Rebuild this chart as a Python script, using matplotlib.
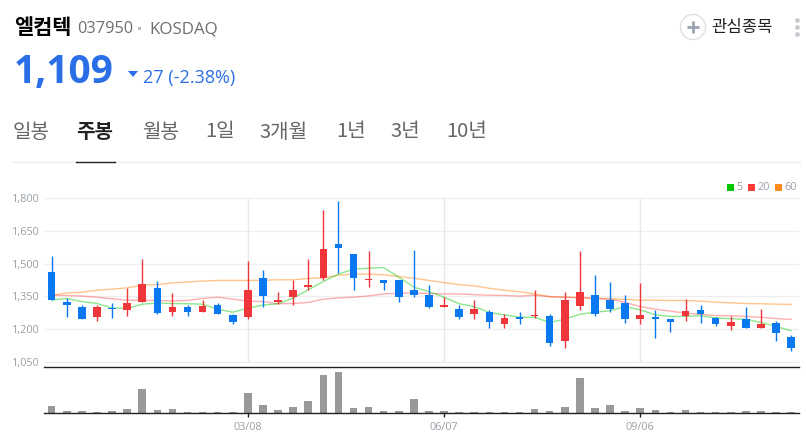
import matplotlib
matplotlib.use("Agg")
import matplotlib.pyplot as plt
from matplotlib.patches import Circle, Polygon, Rectangle

plt.rcParams['font.family'] = ['Noto Sans CJK KR', 'DejaVu Sans']

W, H = 806, 437

# weekly candles
highs = [1536, 1342, 1308, 1311, 1319, 1389, 1522, 1421, 1366, 1311,
         1334, 1319, 1270, 1513, 1471, 1369, 1426, 1522, 1747, 1788,
         1545, 1556, 1426, 1426, 1563, 1403, 1346, 1311, 1334, 1287,
         1268, 1280, 1380, 1268, 1372, 1559, 1449, 1416, 1357, 1410,
         1288, 1247, 1339, 1310, 1256, 1261, 1302, 1293, 1235, 1174]
lows = [1331, 1253, 1248, 1235, 1250, 1262, 1322, 1267, 1258, 1262,
        1280, 1267, 1221, 1245, 1303, 1314, 1311, 1380, 1423, 1456,
        1380, 1395, 1380, 1326, 1345, 1296, 1300, 1244, 1248, 1203,
        1203, 1221, 1250, 1120, 1112, 1288, 1262, 1280, 1227, 1225,
        1157, 1187, 1239, 1227, 1212, 1195, 1204, 1204, 1143, 1099]
body_tops = [1462, 1326, 1303, 1302, 1297, 1320, 1407, 1389, 1303, 1302,
             1306, 1310, 1265, 1378, 1432, 1332, 1380, 1403, 1568, 1591,
             1545, 1430, 1426, 1424, 1380, 1355, 1311, 1293, 1291, 1280,
             1251, 1253, 1265, 1258, 1334, 1369, 1355, 1334, 1319, 1265,
             1256, 1247, 1284, 1288, 1251, 1233, 1245, 1225, 1227, 1164]
body_bots = [1334, 1308, 1248, 1253, 1290, 1285, 1322, 1273, 1280, 1280,
             1280, 1267, 1230, 1253, 1351, 1325, 1349, 1394, 1433, 1574,
             1432, 1426, 1410, 1345, 1357, 1302, 1302, 1256, 1267, 1230,
             1225, 1244, 1259, 1138, 1143, 1305, 1271, 1290, 1248, 1248,
             1244, 1230, 1258, 1267, 1221, 1216, 1204, 1204, 1180, 1114]
# 1 = up (red), 0 = down (blue)
is_up = [0, 0, 0, 1, 0, 1, 1, 0, 1, 0,
         1, 0, 0, 1, 0, 1, 1, 1, 1, 0,
         0, 1, 0, 0, 0, 0, 1, 0, 1, 0,
         1, 0, 1, 0, 1, 1, 0, 0, 0, 1,
         0, 0, 1, 0, 0, 1, 0, 1, 0, 0]

ma5 = [1334, 1340, 1326, 1317, 1297, 1294, 1314, 1319, 1317, 1316,
       1314, 1291, 1277, 1296, 1310, 1316, 1342, 1380, 1418, 1452,
       1475, 1479, 1482, 1438, 1392, 1372, 1346, 1316, 1303, 1276,
       1265, 1254, 1254, 1230, 1245, 1268, 1277, 1284, 1303, 1288,
       1265, 1258, 1258, 1261, 1251, 1247, 1245, 1230, 1212, 1192]
ma20 = [1355, 1354, 1351, 1346, 1339, 1332, 1332, 1331, 1329, 1331,
        1340, 1346, 1337, 1328, 1326, 1316, 1317, 1322, 1337, 1343,
        1346, 1352, 1361, 1364, 1366, 1363, 1361, 1361, 1358, 1355,
        1354, 1351, 1355, 1349, 1346, 1343, 1340, 1337, 1322, 1303,
        1291, 1282, 1273, 1267, 1262, 1261, 1258, 1254, 1248, 1244]
ma60 = [1355, 1365, 1369, 1378, 1383, 1389, 1401, 1404, 1412, 1416,
        1420, 1423, 1423, 1423, 1424, 1426, 1426, 1432, 1435, 1447,
        1452, 1452, 1449, 1441, 1433, 1423, 1413, 1404, 1398, 1387,
        1378, 1371, 1361, 1348, 1346, 1345, 1342, 1339, 1336, 1332,
        1332, 1331, 1331, 1328, 1323, 1320, 1317, 1316, 1314, 1313]

volumes = [22, 7, 6, 3, 6, 13, 73, 10, 13, 4,
           4, 4, 4, 61, 25, 10, 19, 37, 115, 124,
           16, 19, 7, 6, 43, 7, 6, 4, 4, 4,
           4, 4, 13, 6, 19, 105, 15, 25, 7, 15,
           10, 4, 10, 4, 4, 4, 7, 6, 4, 4]

price_ticks = [1050, 1200, 1350, 1500, 1650, 1800]
date_pos = [13, 26, 39]
date_labels = ['03/08', '06/07', '09/06']
tabs = ['일봉', '주봉', '월봉', '1일', '3개월', '1년', '3년', '10년']
tab_x = [13, 76, 142, 205, 259, 336, 390, 446]

BLUE = '#0a78f0'
RED = '#f0353b'
GRAY = '#9aa0a8'

fig = plt.figure(figsize=(W / 100, H / 100), dpi=100, facecolor='white')


def px_axes(left, top, right, bottom):
    return fig.add_axes([left / W, 1 - bottom / H, (right - left) / W, (bottom - top) / H])


# overlay for header text, drawn in pixel coordinates
bg = px_axes(0, 0, W, H)
bg.set_xlim(0, W)
bg.set_ylim(H, 0)
bg.axis('off')

bg.text(14, 27, '엘컴텍', fontsize=15, fontweight='bold', color='black', va='center')
bg.text(77, 29, '037950', fontsize=11.7, color='#6e6e6e', va='center', family='Open Sans')
bg.add_patch(Rectangle((138, 27), 2.5, 2.5, color='#bbbbbb', lw=0))
bg.text(149, 29, 'KOSDAQ', fontsize=12.2, color='#6e6e6e', va='center', family='Open Sans')
bg.text(14, 72, '1,109', fontsize=28, fontweight='bold', color='#2a6fe8', va='center', family='Open Sans')
bg.add_patch(Polygon([(128, 71), (138, 71), (133, 77)], color='#2a6fe8', lw=0))
bg.text(143, 78, '27 (-2.38%)', fontsize=13, color='#2a6fe8', va='center', family='Open Sans')

for label, x in zip(tabs, tab_x):
    selected = label == '주봉'
    bg.text(x, 132, label, fontsize=14.5, va='center',
            color='#222222' if selected else '#666666',
            fontweight='bold' if selected else 'normal')
bg.plot([12, 800], [162, 162], color='#eeeeee', lw=1)
bg.plot([76, 115], [161.5, 161.5], color='#222222', lw=1)

bg.add_patch(Circle((693, 27), 12.5, fc='white', ec='#dcdfe6', lw=1))
bg.plot([687, 699], [27, 27], color='#9aa3b0', lw=2, solid_capstyle='butt')
bg.plot([693, 693], [21, 33], color='#9aa3b0', lw=2, solid_capstyle='butt')
bg.text(711, 27.5, '관심종목', fontsize=12, color='#222222', va='center')
bg.scatter([797, 797, 797], [20, 27, 34], s=12, color='#c8ccd2', lw=0)

# legend
for x, col, txt in zip([727, 748, 775], ['#00c800', '#ff3838', '#ff8c1a'], ['5', '20', '60']):
    bg.add_patch(Rectangle((x, 184), 6.5, 6.5, color=col, lw=0))
    bg.text(x + 9.5, 187.5, txt, fontsize=7.8, color=GRAY, va='center', family='Open Sans')

# price panel
x_lo = -0.51
x_hi = 49.52
ax = px_axes(44, 198.3, 799, 366.7)
ax.patch.set_alpha(0)
ax.set_xlim(x_lo, x_hi)
ax.set_ylim(1027, 1800)
for s in ['top', 'left', 'right']:
    ax.spines[s].set_visible(False)
ax.spines['bottom'].set_color('#222222')
ax.spines['bottom'].set_linewidth(1)
ax.set_xticks([])
ax.set_yticks(price_ticks)
ax.set_yticklabels([f'{v:,}' for v in price_ticks], fontsize=7.8, color=GRAY, family='Open Sans')
ax.tick_params(axis='y', length=0, pad=3)
ax.hlines(price_ticks, x_lo, x_hi, color='#eeeeee', lw=1, zorder=1)
ax.vlines(date_pos, 1050, 1800, color='#e8e8e8', lw=1, zorder=1)

xs = list(range(len(highs)))
ax.plot(xs, ma60, color='#ff8c1a', alpha=0.5, lw=1, zorder=2)
ax.plot(xs, ma20, color='#ff3838', alpha=0.4, lw=1, zorder=2)
ax.plot(xs, ma5, color='#00c800', alpha=0.45, lw=1, zorder=2)

colors = [RED if u else BLUE for u in is_up]
ax.vlines(xs, lows, highs, color=colors, lw=1, zorder=3)
ax.bar(xs, [t - b for t, b in zip(body_tops, body_bots)], bottom=body_bots,
       width=0.5, color=colors, lw=0, zorder=4)

# volume panel
vol = px_axes(44, 366.7, 799, 413.3)
vol.patch.set_alpha(0)
vol.set_xlim(x_lo, x_hi)
vol.set_ylim(0, 140)
vol.bar(xs, volumes, width=0.5, color='#999999', lw=0)
for s in ['top', 'left', 'right']:
    vol.spines[s].set_visible(False)
vol.spines['bottom'].set_color('#222222')
vol.spines['bottom'].set_linewidth(1)
vol.set_yticks([])
vol.set_xticks(date_pos)
vol.set_xticklabels(date_labels, fontsize=7.8, color=GRAY, family='Open Sans')
vol.tick_params(axis='x', length=3, width=1, color='#222222', pad=3)

fig.savefig('out.png', dpi=100)
